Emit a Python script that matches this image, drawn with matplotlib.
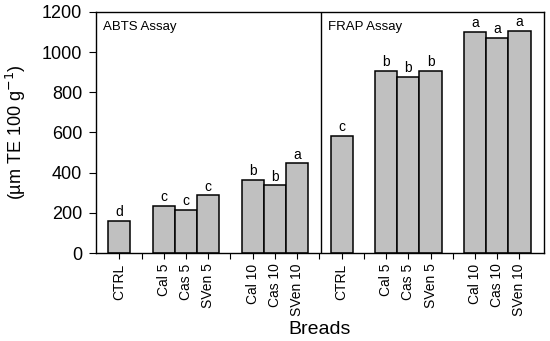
import numpy as np
import matplotlib
matplotlib.use('Agg')
import matplotlib.pyplot as plt

plt.rcParams['font.family'] = ['Liberation Sans', 'DejaVu Sans']

breads = ['CTRL', 'Cal 5', 'Cas 5', 'SVen 5', 'Cal 10', 'Cas 10', 'SVen 10']
abts = [161, 234, 214, 287, 365, 337, 447]
frap = [583, 906, 878, 906, 1102, 1071, 1106]
abts_letters = ['d', 'c', 'c', 'c', 'b', 'b', 'a']
frap_letters = ['c', 'b', 'b', 'b', 'a', 'a', 'a']

# slot positions inside one panel: CTRL, gap, 3 bars, gap, 3 bars
slots = [0, 2, 3, 4, 6, 7, 8]
offset = 10

fig = plt.figure(figsize=(5.5, 3.41), dpi=100)
ax = fig.add_axes([0.1745, 0.258, 0.8145, 0.707])

xa = np.array(slots)
xf = xa + offset
ax.bar(xa, abts, width=1.0, color='#c0c0c0', edgecolor='black', linewidth=1.1)
ax.bar(xf, frap, width=1.0, color='#c0c0c0', edgecolor='black', linewidth=1.1)

for x, v, t in zip(xa, abts, abts_letters):
    ax.text(x, v + 8, t, ha='center', va='bottom', fontsize=10)
for x, v, t in zip(xf, frap, frap_letters):
    ax.text(x, v + 8, t, ha='center', va='bottom', fontsize=10)

ax.axvline(9.05, color='black', linewidth=1.0)
ax.text(-0.75, 1155, 'ABTS Assay', ha='left', va='top', fontsize=9.5)
ax.text(9.4, 1155, 'FRAP Assay', ha='left', va='top', fontsize=9.5)

ax.set_xlim(-1.05, 19.1)
ax.set_ylim(0, 1200)
ax.set_yticks(range(0, 1201, 200))
ax.tick_params(axis='y', labelsize=13, direction='out', length=5, pad=5)

ticks = list(range(0, 19))
labels = []
for i in ticks:
    s = i % offset
    if i != 9 and s in slots:
        labels.append(breads[slots.index(s)])
    else:
        labels.append('')
ax.set_xticks(ticks)
ax.set_xticklabels(labels, rotation=90, fontsize=10)
ax.tick_params(axis='x', direction='out', length=4)

ax.set_ylabel('(\u00b5m TE 100 g$^{-1}$)', fontsize=13, labelpad=10)
ax.set_xlabel('Breads', fontsize=14)

for sp in ax.spines.values():
    sp.set_linewidth(1.0)

fig.savefig('out.png', dpi=100)
